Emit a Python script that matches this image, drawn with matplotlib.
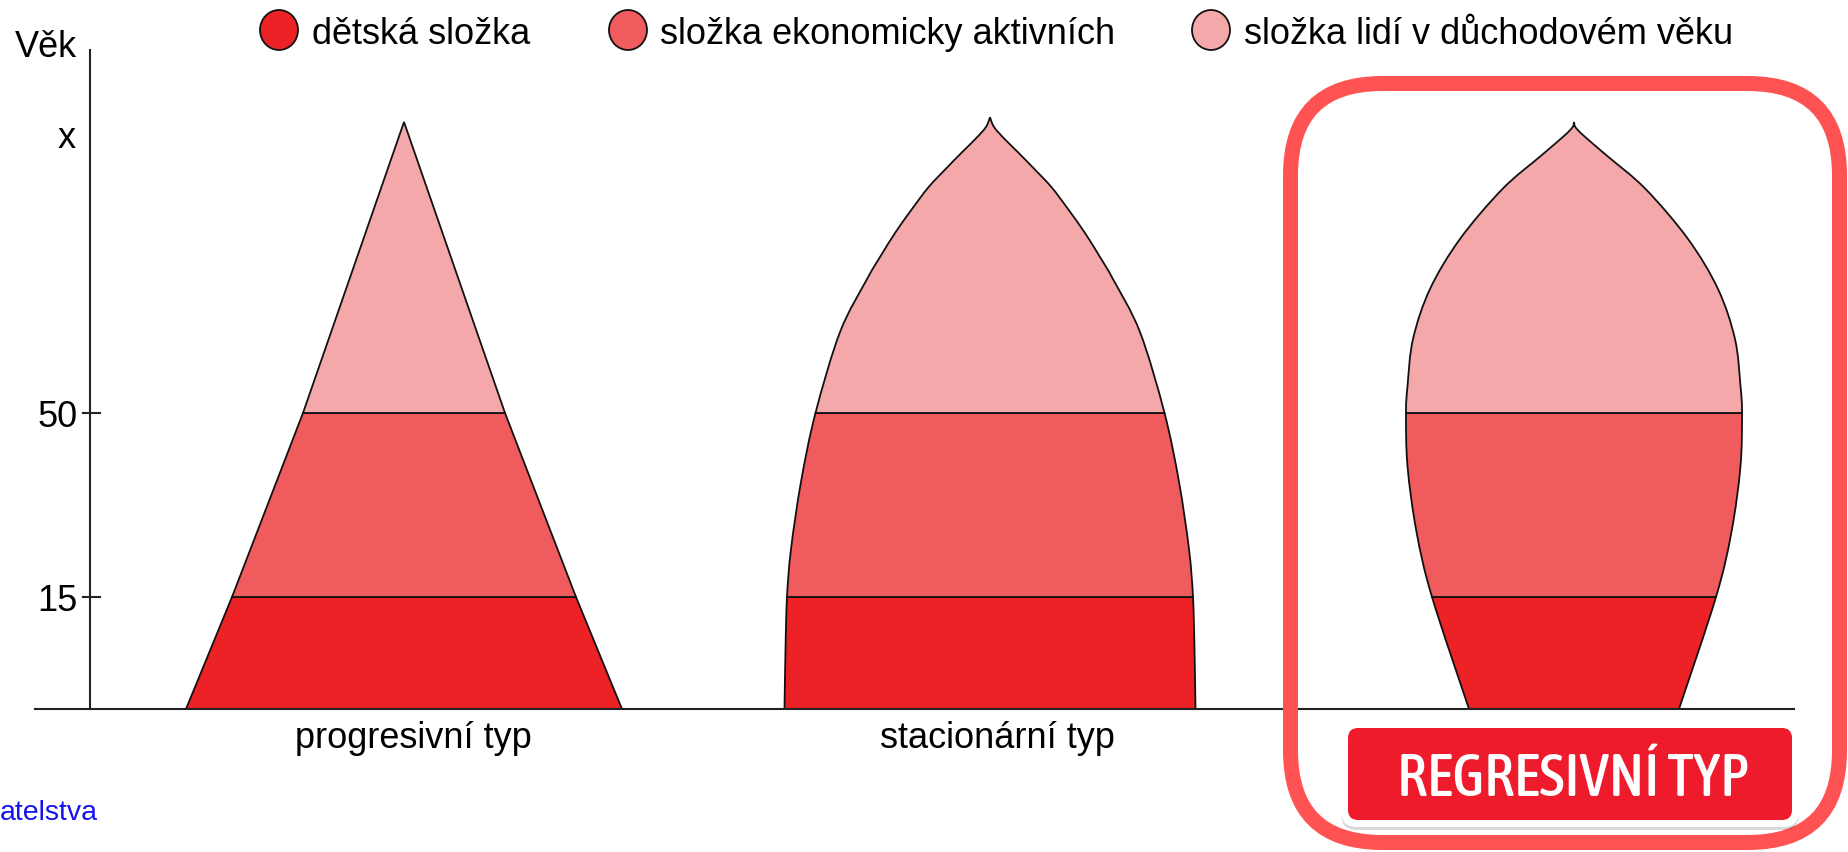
import matplotlib
matplotlib.use("Agg")
import matplotlib.pyplot as plt
import matplotlib.transforms as mtransforms
from matplotlib import font_manager
from matplotlib.path import Path
from matplotlib.patches import PathPatch, FancyBboxPatch, Ellipse
import numpy as np

W, H = 1849, 853

# ---------------- data ----------------
BAND_LABELS = ["dětská složka", "složka ekonomicky aktivních", "složka lidí v důchodovém věku"]
BAND_COLORS = ["#EC2227", "#F05B5E", "#F5A8AA"]
BAND_LIMITS = [0, 15, 50]          # lower age of each band

TYPE_NAMES = ["progresivní typ", "stacionární typ", "REGRESIVNÍ TYP"]

# outline of each type: age -> half width of the shape
PROG_AGE = [0, 15, 50, 100]
PROG_WIDTH = [218, 172, 101, 0]

STAT_AGE = [0, 8, 15, 24.1, 36.9, 50, 63.9, 73.0, 76.8, 81.05, 85.05, 88.8, 91.9,
            94.8, 97.1, 99.1, 100.8]
STAT_WIDTH = [205.5, 204.5, 203, 199, 189, 174.5, 150, 123, 110, 94.5, 78, 61.5, 44.5,
              28, 14.5, 4.2, 0]

REGR_AGE = [0, 15, 27.4, 39.9, 50, 54.6, 62.7, 71.3, 79.9, 88.5, 94.2, 97.6, 99.1, 100]
REGR_WIDTH = [105, 142, 157.5, 166.5, 168, 166.5, 161, 144, 114, 71.5, 33, 10, 1.5, 0]

Y_TICKS = [15, 50]
Y_MAX_LABEL = "x"

# ---------------- layout ----------------
CENTERS = [404, 990, 1574]
SMOOTH = [False, True, True]
BASE_Y = 710                        # pixel row of age 0

# schematic (non proportional) age axis: age -> drawing height
AGE_KNOTS = [-100, 0, 15, 50, 100, 200]
AGE_PIX = [-747, 0, 112, 296, 587, 1169]


def age_h(a):
    return np.interp(a, AGE_KNOTS, AGE_PIX)


plt.rcParams["font.family"] = ["Liberation Sans", "DejaVu Sans"]

fig = plt.figure(figsize=(W / 100, H / 100), dpi=100)
ax = fig.add_axes([0, 0, 1, 1])
ax.set_xlim(0, W)
ax.set_ylim(-(H - BASE_Y), BASE_Y)
ax.axis("off")

# pixel coordinates, origin top-left
pix = mtransforms.Affine2D().scale(1 / W, -1 / H).translate(0, 1) + fig.transFigure


def side_segments(pts, i0, i1, smooth):
    verts, codes = [], []
    n = len(pts)
    step = 1 if i1 > i0 else -1
    for i in range(i0, i1, step):
        j = i + step
        if smooth:
            lo, hi = min(i, j), max(i, j)
            c1 = pts[lo] + (pts[hi] - pts[max(lo - 1, 0)]) / 6
            c2 = pts[hi] - (pts[min(hi + 1, n - 1)] - pts[lo]) / 6
            if step < 0:
                c1, c2 = c2, c1
            verts += [c1, c2, pts[j]]
            codes += [Path.CURVE4] * 3
        else:
            verts.append(pts[j])
            codes.append(Path.LINETO)
    return verts, codes


def draw_type(ages, widths, cx, smooth):
    ages = np.asarray(ages, float)
    widths = np.asarray(widths, float)
    hts = age_h(ages)
    left = np.column_stack([cx - widths, hts])
    right = np.column_stack([cx + widths, hts])
    bounds = BAND_LIMITS + [ages[-1]]
    for b in range(3):
        i0 = int(np.argmin(np.abs(ages - bounds[b])))
        i1 = int(np.argmin(np.abs(ages - bounds[b + 1])))
        verts = [left[i0]]
        codes = [Path.MOVETO]
        v, c = side_segments(left, i0, i1, smooth)
        verts += v
        codes += c
        verts.append(right[i1])
        codes.append(Path.LINETO)
        v, c = side_segments(right, i1, i0, smooth)
        verts += v
        codes += c
        verts.append(left[i0])
        codes.append(Path.CLOSEPOLY)
        ax.add_patch(PathPatch(Path(verts, codes), facecolor=BAND_COLORS[b],
                               edgecolor="#111111", lw=1.3, zorder=3))


for ages, widths, cx, sm in zip([PROG_AGE, STAT_AGE, REGR_AGE],
                                [PROG_WIDTH, STAT_WIDTH, REGR_WIDTH],
                                CENTERS, SMOOTH):
    draw_type(ages, widths, cx, sm)

# axes lines
ax.plot([35, 1794], [0, 0], color="#222222", lw=1.5, zorder=4)
ax.plot([90, 90], [0, BASE_Y - 51], color="#222222", lw=1.5, zorder=4)
for a in Y_TICKS:
    ax.plot([83, 100], [age_h(a), age_h(a)], color="#222222", lw=1.5, zorder=4)
    ax.annotate(str(a), xy=(78, age_h(a)), xytext=(0, -9.4), textcoords="offset points",
                ha="right", va="baseline", fontsize=26)
fig.text(76, 148, Y_MAX_LABEL, transform=pix, ha="right", va="baseline", fontsize=26)
fig.text(77, 57, "Věk", transform=pix, ha="right", va="baseline", fontsize=26)

# legend
leg_x = [279, 628, 1211]
txt_x = [312, 660, 1244]
for i in range(3):
    fig.add_artist(Ellipse((leg_x[i], 31), 38, 40, transform=pix,
                           facecolor=BAND_COLORS[i], edgecolor="#111111", lw=1.3))
    fig.text(txt_x[i], 44, BAND_LABELS[i], transform=pix, ha="left",
             va="baseline", fontsize=26)

# type labels
fig.text(413, 748, TYPE_NAMES[0], transform=pix, ha="center", va="baseline", fontsize=26)
fig.text(997, 748, TYPE_NAMES[1], transform=pix, ha="center", va="baseline", fontsize=26)

# highlight frame round the regressive type
fig.add_artist(FancyBboxPatch((1290.5, 84.5), 549, 759,
                              boxstyle="round,pad=0,rounding_size=92",
                              transform=pix, facecolor="none",
                              edgecolor="#FF5353", lw=10.8, zorder=5))

fig.add_artist(FancyBboxPatch((1341, 724), 458, 107,
                              boxstyle="round,pad=0,rounding_size=16",
                              transform=pix, facecolor=(0, 0, 0, 0.15),
                              edgecolor="none", zorder=6))
fig.add_artist(FancyBboxPatch((1341, 721), 458, 107,
                              boxstyle="round,pad=0,rounding_size=16",
                              transform=pix, facecolor="white",
                              edgecolor="none", zorder=7))
fig.add_artist(FancyBboxPatch((1348, 729), 444, 92,
                              boxstyle="round,pad=0,rounding_size=10",
                              transform=pix, facecolor="#EE1B2D",
                              edgecolor="none", zorder=8))


def condensed_font():
    """a condensed medium face for the badge, Roboto Medium if none"""
    best = None
    for f in font_manager.fontManager.ttflist:
        if f.stretch != "condensed" or not f.name.startswith("Asap"):
            continue
        if "italic" in f.style:
            continue
        wt = f.weight if isinstance(f.weight, int) else \
            {"normal": 400, "regular": 400, "medium": 500, "semibold": 600,
             "bold": 700}.get(str(f.weight), 400)
        score = abs(wt - 500)
        if best is None or score < best[0]:
            best = (score, f.fname)
    if best is not None:
        return font_manager.FontProperties(fname=best[1])
    return font_manager.FontProperties(family="Roboto", weight="medium")


badge_font = condensed_font()
reg = fig.text(1573, 796, TYPE_NAMES[2], transform=pix, ha="center", va="baseline",
               color="white", zorder=9, fontproperties=badge_font)
reg.set_fontsize(40)
renderer = fig.canvas.get_renderer()
w_now = reg.get_window_extent(renderer).width
reg.set_fontsize(min(43, 40 * 370 / w_now))

fig.text(0, 820, "atelstva", transform=pix, ha="left", va="baseline",
         fontsize=20.5, color="#1414EE")

fig.savefig("out.png", dpi=100)
